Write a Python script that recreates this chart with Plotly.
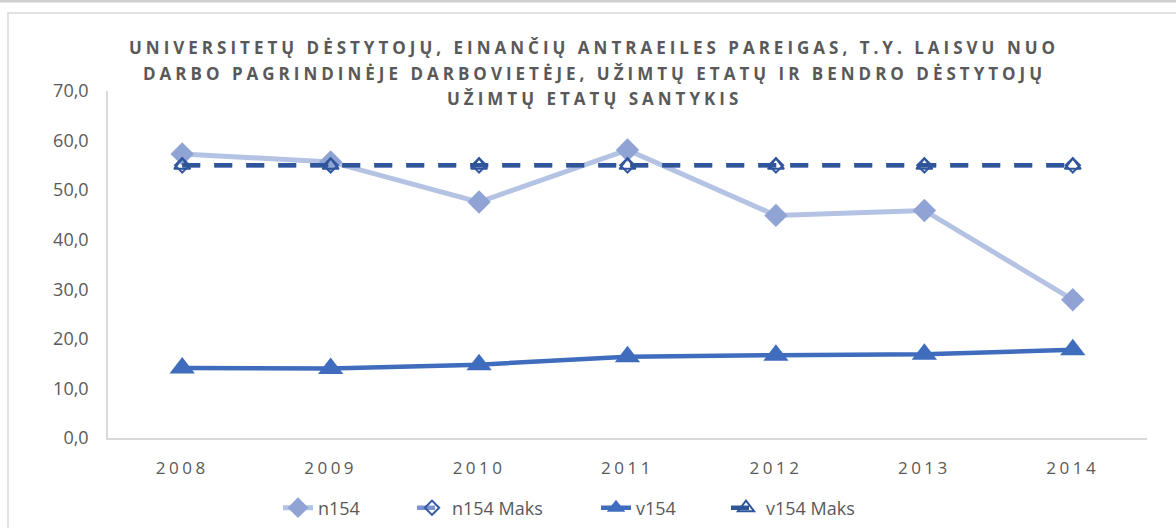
import plotly.graph_objects as go

years = ["2008", "2009", "2010", "2011", "2012", "2013", "2014"]
n154 = [57.3, 55.7, 47.6, 58.1, 44.9, 45.9, 27.9]
n154_maks = [55.0, 55.0, 55.0, 55.0, 55.0, 55.0, 55.0]
v154 = [14.1, 14.0, 14.8, 16.4, 16.7, 16.9, 17.8]
v154_maks = [55.0, 55.0, 55.0, 55.0, 55.0, 55.0, 55.0]
y_ticks = [0, 10, 20, 30, 40, 50, 60, 70]
title_lines = [
    "UNIVERSITETŲ DĖSTYTOJŲ, EINANČIŲ ANTRAEILES PAREIGAS, T.Y. LAISVU NUO",
    "DARBO PAGRINDINĖJE DARBOVIETĖJE, UŽIMTŲ ETATŲ IR BENDRO DĖSTYTOJŲ",
    "UŽIMTŲ ETATŲ SANTYKIS",
]

# plot area in pixels
L, R, T, B = 108, 1147, 91, 438
W, H = R - L, B - T


def px(x):
    return (x - L) / W


def py(y):
    return (B - y) / H


fig = go.Figure()
fig.add_trace(go.Scatter(
    x=years, y=n154, name="n154", mode="lines+markers", legend="legend", showlegend=True,
    line=dict(color="#b4c2e3", width=5),
    marker=dict(symbol="diamond", size=18, color="#8fa4d5"),
))
fig.add_trace(go.Scatter(
    x=years, y=n154_maks, name="n154 Maks", mode="lines+markers", legend="legend2", showlegend=True,
    line=dict(color="#7b93cf", width=4.5, dash="18px,14px"),
    marker=dict(symbol="diamond-open", size=11, color="#3458a4", line=dict(width=2)),
))
fig.add_trace(go.Scatter(
    x=years, y=v154, name="v154", mode="lines+markers", legend="legend3", showlegend=True,
    line=dict(color="#3f6cbd", width=4.5),
    marker=dict(symbol="triangle-up", size=22, color="#3f6cbd"),
))
fig.add_trace(go.Scatter(
    x=years, y=v154_maks, name="v154 Maks", mode="lines+markers", legend="legend4", showlegend=True,
    line=dict(color="#2f559b", width=4.5, dash="18px,14px"),
    marker=dict(symbol="triangle-up-open", size=14, color="#2f559b", line=dict(width=2)),
))

legend_font = dict(family="Open Sans", size=18, color="#595959")
text_starts = [318, 452, 636, 766]
legends = {}
for i, xs in enumerate(text_starts):
    key = "legend" if i == 0 else f"legend{i + 1}"
    legends[key] = dict(
        visible=True, orientation="h", x=px(xs - 40), xanchor="left", y=py(508), yanchor="middle",
        font=legend_font, bgcolor="rgba(0,0,0,0)",
    )

annotations = []
for i, line in enumerate(title_lines):
    annotations.append(dict(
        text=line, xref="paper", yref="paper", x=px(594), y=py(47 + 26 * i),
        xanchor="center", yanchor="middle", showarrow=False,
        font=dict(family="Open Sans", size=17, color="#595959", weight="bold"),
    ))

fig.update_layout(
    width=1176, height=528,
    showlegend=True,
    margin=dict(l=L, r=1176 - R, t=T, b=528 - B, autoexpand=False),
    paper_bgcolor="white", plot_bgcolor="white",
    separators=", ",
    font=dict(family="Open Sans, Liberation Sans, sans-serif", color="#595959", size=17),
    annotations=annotations,
    xaxis=dict(
        type="category", range=[-0.5, 6.5], showgrid=False,
        showline=True, linecolor="#d9d9d9", linewidth=1.5,
        ticks="", ticklabelstandoff=14, tickfont=dict(size=17, color="#595959"),
    ),
    yaxis=dict(
        range=[0, 70], tickvals=y_ticks, tickformat=".1f", showgrid=False,
        showline=True, linecolor="#d9d9d9", linewidth=1.5, zeroline=False,
        ticks="", ticklabelstandoff=14, tickfont=dict(size=18, color="#595959"),
    ),
    shapes=[
        dict(type="rect", xref="paper", yref="paper",
             x0=px(8), x1=px(1185), y0=py(540), y1=py(13),
             line=dict(color="#d9d9d9", width=1.5), fillcolor="rgba(0,0,0,0)", layer="below"),
        dict(type="line", xref="paper", yref="paper",
             x0=px(0), x1=px(1176), y0=py(1), y1=py(1),
             line=dict(color="#d0d0d0", width=3)),
    ],
    **legends,
)

post = """
var s = document.createElement('style');
s.innerHTML = 'body{margin:0;} .annotation-text{letter-spacing:4px;} .xtick text{letter-spacing:3.5px;}';
document.head.appendChild(s);
"""
fig.write_html("out.html", post_script=post, config={"displayModeBar": False})
